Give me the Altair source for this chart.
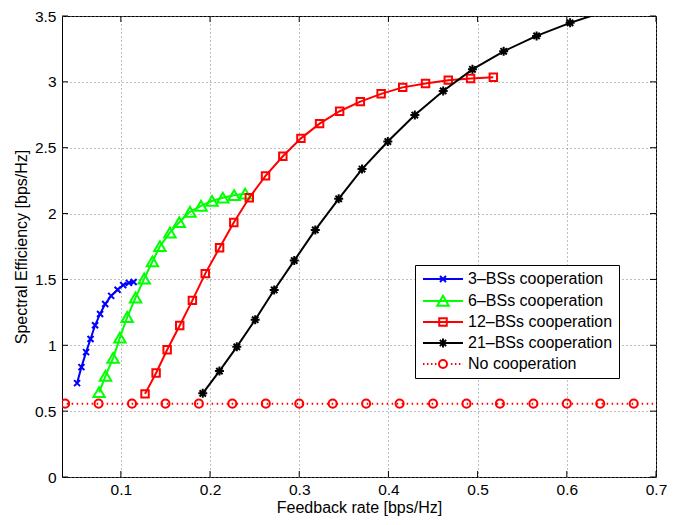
import altair as alt
import pandas as pd

# ---------------- data ----------------
series_names = ["3–BSs cooperation", "6–BSs cooperation", "12–BSs cooperation",
                "21–BSs cooperation", "No cooperation"]
series_colors = ["#0000ff", "#00ff00", "#ff0000", "#000000", "#ff0000"]

x_3bs = [0.0509, 0.0558, 0.0610, 0.0660, 0.0711, 0.0767, 0.0824, 0.0891, 0.0963, 0.1026, 0.1090, 0.1143]
y_3bs = [0.713, 0.834, 0.948, 1.048, 1.152, 1.238, 1.313, 1.375, 1.422, 1.457, 1.474, 1.480]

x_6bs = [0.0756, 0.0828, 0.0913, 0.0989, 0.1071, 0.1165, 0.1262, 0.1354, 0.1438, 0.1550, 0.1655,
         0.1775, 0.1899, 0.2022, 0.2143, 0.2270, 0.2393]
y_6bs = [0.643, 0.767, 0.903, 1.057, 1.214, 1.362, 1.506, 1.636, 1.752, 1.855, 1.934,
         2.013, 2.058, 2.095, 2.120, 2.139, 2.150]

x_12bs = [0.1271, 0.1395, 0.1519, 0.1660, 0.1802, 0.1946, 0.2107, 0.2266, 0.2440, 0.2622, 0.2816,
          0.3019, 0.3228, 0.3453, 0.3685, 0.3918, 0.4160, 0.4416, 0.4671, 0.4921, 0.5176]
y_12bs = [0.631, 0.790, 0.966, 1.150, 1.341, 1.544, 1.741, 1.932, 2.120, 2.286, 2.435,
          2.571, 2.683, 2.777, 2.850, 2.909, 2.958, 2.988, 3.013, 3.025, 3.035]

x_21bs = [0.1918, 0.2105, 0.2300, 0.2506, 0.2719, 0.2944, 0.3180, 0.3442, 0.3704, 0.3993, 0.4296,
          0.4614, 0.4942, 0.5292, 0.5661, 0.6037, 0.6420]
y_21bs = [0.635, 0.804, 0.988, 1.194, 1.420, 1.643, 1.876, 2.112, 2.338, 2.547, 2.748,
          2.931, 3.095, 3.232, 3.349, 3.448, 3.533]

x_nocoop = [0.0, 0.0375, 0.075, 0.1125, 0.15, 0.1875, 0.225, 0.2625, 0.3, 0.3375, 0.375,
            0.4125, 0.45, 0.4875, 0.525, 0.5625, 0.6, 0.6375, 0.675, 0.7125]
y_nocoop = [0.557] * len(x_nocoop)

x_ticks = [0.1, 0.2, 0.3, 0.4, 0.5, 0.6, 0.7]
y_ticks = [0, 0.5, 1, 1.5, 2, 2.5, 3, 3.5]

xs = [x_3bs, x_6bs, x_12bs, x_21bs, x_nocoop]
ys = [y_3bs, y_6bs, y_12bs, y_21bs, y_nocoop]

rows = []
for name, xv, yv in zip(series_names, xs, ys):
    for a, b in zip(xv, yv):
        rows.append({"series": name, "x": a, "y": b})
df = pd.DataFrame(rows)

# ---------------- styles ----------------
W, H = 594, 461
FONT = "Liberation Sans"
TICK = 6

# chart marker paths (unit box [-1,1], size 144 -> 12px box)
marker_paths = [
    "M-0.5,-0.5L0.5,0.5M-0.5,0.5L0.5,-0.5",
    "M0,-0.85L0.95,0.8L-0.95,0.8Z",
    "M-0.62,-0.62H0.62V0.62H-0.62Z",
    "M0,-0.75V0.75M-0.75,0H0.75M-0.53,-0.53L0.53,0.53M-0.53,0.53L0.53,-0.53",
    "M0.67,0A0.67,0.67 0 1,1 -0.67,0A0.67,0.67 0 1,1 0.67,0Z",
]


def dotted(start, end, on, period, skip):
    parts = []
    x = start
    while x < end - 1e-9:
        x1 = min(x + on, end)
        if abs((x + x1) / 2) > skip:
            parts.append(f"M{x:.3f},0H{x1:.3f}")
        x += period
    return "".join(parts)


L = 2.857  # legend line half-length in legend units (size 196 -> 7px per unit)
legend_paths = [
    f"M{-L},0H{L}" + "M-0.43,-0.43L0.43,0.43M-0.43,0.43L0.43,-0.43",
    f"M{-L},0H{L}" + "M0,-0.75L0.82,0.68L-0.82,0.68Z",
    f"M{-L},0H{L}" + "M-0.54,-0.54H0.54V0.54H-0.54Z",
    f"M{-L},0H{L}" + "M0,-0.64V0.64M-0.64,0H0.64M-0.45,-0.45L0.45,0.45M-0.45,0.45L0.45,-0.45",
    dotted(-L, L, 0.21, 0.57, 0.75) + "M0.57,0A0.57,0.57 0 1,1 -0.57,0A0.57,0.57 0 1,1 0.57,0Z",
]

x_scale = alt.Scale(domain=[0.034, 0.7], nice=False, zero=False)
y_scale = alt.Scale(domain=[0, 3.5], nice=False, zero=False)

grid_kw = dict(grid=True, gridDash=[1, 3], gridColor="#7f7f7f", gridWidth=1,
               ticks=False, domain=False, labelFont=FONT, labelFontSize=15.5,
               labelColor="black", titleFont=FONT, titleFontSize=16,
               titleFontWeight="normal", titleColor="black", format="~g")

X = alt.X("x:Q", scale=x_scale,
          axis=alt.Axis(values=x_ticks, title="Feedback rate [bps/Hz]", labelPadding=5,
                        titlePadding=2, labelFlush=False, **grid_kw))
Y = alt.Y("y:Q", scale=y_scale,
          axis=alt.Axis(values=y_ticks, title="Spectral Efficiency [bps/Hz]", labelPadding=6,
                        titlePadding=5, labelFlush=False, **grid_kw))

layers = []
for name, color, path in zip(series_names, series_colors, marker_paths):
    base = alt.Chart(df).transform_filter(alt.datum.series == name)
    if name == "No cooperation":
        line = base.mark_line(color=color, strokeWidth=2, strokeDash=[1.5, 3.5], clip=True)
    else:
        line = base.mark_line(color=color, strokeWidth=2, clip=True)
    pts = base.mark_point(shape=path, size=144, filled=False, strokeWidth=2,
                          color=color, opacity=1, clip=True)
    layers.append(line.encode(x=X, y=Y))
    layers.append(pts.encode(x=X, y=Y))

xt = pd.DataFrame({"x": x_ticks})
yt = pd.DataFrame({"y": y_ticks})
tick_bottom = alt.Chart(xt).mark_rule(color="black", strokeWidth=1).encode(
    x=X, y=alt.value(H), y2=alt.value(H - TICK))
tick_top = alt.Chart(xt).mark_rule(color="black", strokeWidth=1).encode(
    x=X, y=alt.value(0), y2=alt.value(TICK))
tick_left = alt.Chart(yt).mark_rule(color="black", strokeWidth=1).encode(
    y=Y, x=alt.value(0), x2=alt.value(TICK))
tick_right = alt.Chart(yt).mark_rule(color="black", strokeWidth=1).encode(
    y=Y, x=alt.value(W), x2=alt.value(W - TICK))
layers += [tick_bottom, tick_top, tick_left, tick_right]

legend = alt.Legend(title=None, orient="none", legendX=353, legendY=249, padding=6,
                    strokeColor="black", fillColor="white", labelFont=FONT,
                    labelFontSize=16, labelColor="black", labelLimit=400,
                    symbolSize=196, symbolStrokeWidth=2, symbolOffset=14,
                    labelOffset=17, rowPadding=4, cornerRadius=0)
legend_layer = alt.Chart(df).transform_filter("false").mark_point(
    filled=False, size=196, strokeWidth=2, opacity=1).encode(
    x=X, y=Y,
    color=alt.Color("series:N", scale=alt.Scale(domain=series_names, range=series_colors),
                    legend=legend),
    shape=alt.Shape("series:N", scale=alt.Scale(domain=series_names, range=legend_paths),
                    legend=legend),
)
layers.append(legend_layer)

chart = alt.layer(*layers).properties(
    width=W, height=H,
    padding={"left": 54, "top": 8, "right": 30, "bottom": 40},
    autosize=alt.AutoSizeParams(type="none"),
    background="white",
).configure_view(stroke="black", strokeWidth=1)

chart.save("out.html", embed_options={"renderer": "svg", "actions": False})
